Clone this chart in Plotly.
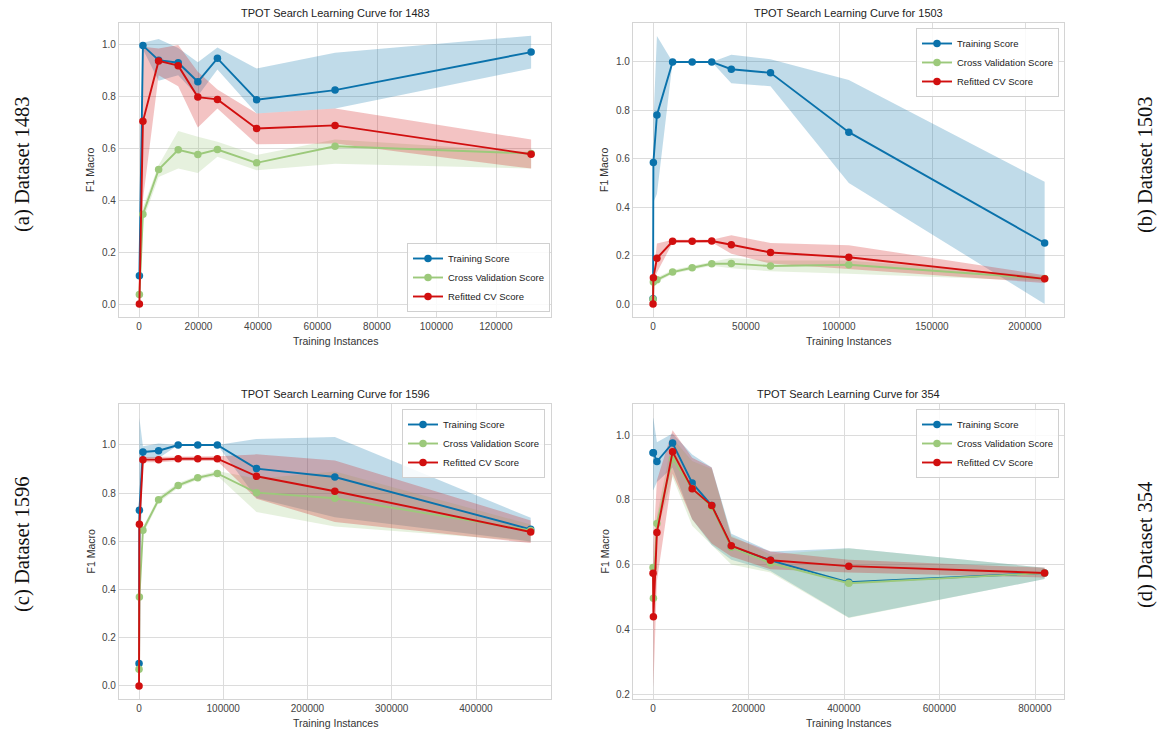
import plotly.graph_objects as go

# ---------------- DATA ----------------
# (a) Dataset 1483
a_x = [132, 1318, 6590, 13180, 19770, 26360, 39540, 65900, 131800]
a_train = [0.109, 0.994, 0.938, 0.928, 0.855, 0.945, 0.786, 0.823, 0.969]
a_train_hi = [0.115, 1.005, 1.019, 0.985, 0.930, 0.987, 0.906, 0.967, 1.032]
a_train_lo = [0.103, 0.980, 0.859, 0.880, 0.800, 0.902, 0.733, 0.752, 0.906]
a_cv = [0.037, 0.345, 0.517, 0.593, 0.575, 0.594, 0.543, 0.607, 0.579]
a_cv_hi = [0.040, 0.370, 0.534, 0.666, 0.643, 0.624, 0.573, 0.633, 0.585]
a_cv_lo = [0.034, 0.320, 0.489, 0.521, 0.504, 0.566, 0.515, 0.540, 0.521]
a_ref = [0.0, 0.703, 0.935, 0.917, 0.796, 0.787, 0.675, 0.687, 0.576]
a_ref_hi = [0.0, 0.990, 0.983, 0.996, 0.893, 0.825, 0.733, 0.752, 0.633]
a_ref_lo = [0.0, 0.400, 0.880, 0.838, 0.679, 0.752, 0.615, 0.617, 0.521]

# (b) Dataset 1503
b_x = [21, 211, 2106, 10530, 21060, 31580, 42110, 63170, 105280, 210560]
b_train = [0.022, 0.585, 0.781, 1.0, 1.0, 1.0, 0.970, 0.955, 0.710, 0.252]
b_train_hi = [0.030, 0.750, 1.107, 1.0, 1.0, 1.0, 1.030, 1.011, 0.926, 0.505]
b_train_lo = [0.015, 0.420, 0.455, 1.0, 1.0, 1.0, 0.912, 0.900, 0.500, 0.0]
b_cv = [0.020, 0.091, 0.100, 0.132, 0.150, 0.166, 0.167, 0.157, 0.162, 0.105]
b_cv_hi = [0.025, 0.100, 0.110, 0.140, 0.158, 0.175, 0.190, 0.180, 0.180, 0.115]
b_cv_lo = [0.015, 0.080, 0.090, 0.125, 0.142, 0.158, 0.148, 0.135, 0.125, 0.095]
b_ref = [0.0, 0.108, 0.189, 0.259, 0.259, 0.260, 0.245, 0.213, 0.193, 0.104]
b_ref_hi = [0.0, 0.120, 0.250, 0.265, 0.265, 0.265, 0.284, 0.252, 0.243, 0.119]
b_ref_lo = [0.0, 0.095, 0.130, 0.253, 0.253, 0.255, 0.208, 0.167, 0.142, 0.087]

# (c) Dataset 1596
c_x = [46, 465, 4649, 23245, 46490, 69735, 92980, 139470, 232450, 464900]
c_train = [0.093, 0.729, 0.971, 0.976, 1.0, 1.0, 1.0, 0.902, 0.867, 0.650]
c_train_hi = [0.100, 1.112, 0.995, 1.006, 1.0, 1.0, 1.0, 1.025, 1.033, 0.698]
c_train_lo = [0.086, 0.350, 0.945, 0.945, 1.0, 1.0, 1.0, 0.780, 0.700, 0.600]
c_cv = [0.069, 0.369, 0.646, 0.773, 0.832, 0.864, 0.882, 0.802, 0.779, 0.645]
c_cv_hi = [0.072, 0.380, 0.660, 0.785, 0.842, 0.872, 0.892, 0.860, 0.890, 0.670]
c_cv_lo = [0.066, 0.360, 0.630, 0.760, 0.822, 0.856, 0.872, 0.722, 0.662, 0.600]
c_ref = [0.0, 0.671, 0.939, 0.939, 0.943, 0.943, 0.943, 0.870, 0.808, 0.639]
c_ref_hi = [0.0, 0.750, 0.950, 0.950, 0.953, 0.953, 0.953, 0.961, 0.936, 0.687]
c_ref_lo = [0.0, 0.590, 0.928, 0.928, 0.933, 0.933, 0.933, 0.777, 0.680, 0.593]

# (d) Dataset 354
d_x = [82, 820, 8200, 41000, 82000, 123000, 164000, 246000, 410000, 820000]
d_train = [0.945, 0.945, 0.918, 0.975, 0.852, 0.782, 0.655, 0.613, 0.545, 0.574]
d_train_hi = [1.052, 1.052, 0.978, 1.005, 0.940, 0.900, 0.695, 0.640, 0.650, 0.590]
d_train_lo = [0.830, 0.830, 0.855, 0.900, 0.740, 0.660, 0.615, 0.580, 0.436, 0.555]
d_cv = [0.591, 0.496, 0.727, 0.927, 0.835, 0.778, 0.653, 0.604, 0.542, 0.574]
d_cv_hi = [0.610, 0.520, 0.750, 0.990, 0.920, 0.895, 0.690, 0.630, 0.650, 0.590]
d_cv_lo = [0.570, 0.470, 0.700, 0.870, 0.720, 0.660, 0.600, 0.575, 0.435, 0.555]
d_ref = [0.573, 0.439, 0.699, 0.948, 0.834, 0.782, 0.658, 0.613, 0.595, 0.574]
d_ref_hi = [0.600, 0.660, 0.860, 1.015, 0.930, 0.900, 0.685, 0.640, 0.615, 0.590]
d_ref_lo = [0.550, 0.220, 0.550, 0.880, 0.740, 0.665, 0.625, 0.585, 0.575, 0.560]

titles = ["TPOT Search Learning Curve for 1483", "TPOT Search Learning Curve for 1503",
          "TPOT Search Learning Curve for 1596", "TPOT Search Learning Curve for 354"]
side_labels = ["(a) Dataset 1483", "(b) Dataset 1503", "(c) Dataset 1596", "(d) Dataset 354"]
series_names = ["Training Score", "Cross Validation Score", "Refitted CV Score"]
x_tick_vals = [
    [0, 20000, 40000, 60000, 80000, 100000, 120000],
    [0, 50000, 100000, 150000, 200000],
    [0, 100000, 200000, 300000, 400000],
    [0, 200000, 400000, 600000, 800000],
]
y_tick_vals = [
    [0.0, 0.2, 0.4, 0.6, 0.8, 1.0],
    [0.0, 0.2, 0.4, 0.6, 0.8, 1.0],
    [0.0, 0.2, 0.4, 0.6, 0.8, 1.0],
    [0.2, 0.4, 0.6, 0.8, 1.0],
]

# ---------------- STYLE ----------------
W, H = 1166, 730
FONT = "Liberation Sans, Arial, sans-serif"
colors = ["#0a72ab", "#9cc97b", "#d10f0f"]
fills = ["rgba(10,114,171,0.26)", "rgba(156,201,123,0.25)", "rgba(209,15,15,0.25)"]

# plot areas in pixels: (left, right, top, bottom)
boxes = [(119, 551, 23, 317), (633, 1064, 23, 317), (119, 551, 404, 699), (633, 1064, 404, 699)]
x_ranges = [[-6723, 138487], [-10753, 220968], [-23739, 489021], [-41885, 860733]]
y_ranges = [[-0.05, 1.081], [-0.0537, 1.161], [-0.054, 1.170], [0.1846, 1.0958]]
legend_pos = [("bottom", 550, 312), ("top", 1059, 28), ("top", 545, 409), ("top", 1059, 409)]

panels = [
    (a_x, [(a_train, a_train_hi, a_train_lo), (a_cv, a_cv_hi, a_cv_lo), (a_ref, a_ref_hi, a_ref_lo)]),
    (b_x, [(b_train, b_train_hi, b_train_lo), (b_cv, b_cv_hi, b_cv_lo), (b_ref, b_ref_hi, b_ref_lo)]),
    (c_x, [(c_train, c_train_hi, c_train_lo), (c_cv, c_cv_hi, c_cv_lo), (c_ref, c_ref_hi, c_ref_lo)]),
    (d_x, [(d_train, d_train_hi, d_train_lo), (d_cv, d_cv_hi, d_cv_lo), (d_ref, d_ref_hi, d_ref_lo)]),
]

fig = go.Figure()
layout = dict(
    width=W, height=H,
    margin=dict(l=0, r=0, t=0, b=0),
    paper_bgcolor="white", plot_bgcolor="white",
    font=dict(family=FONT, size=10, color="#444"),
    showlegend=True,
)
annotations = []

for i, (xs, series) in enumerate(panels):
    k = "" if i == 0 else str(i + 1)
    xa, ya = "x" + k, "y" + k
    L, R, T, B = boxes[i]
    # bands
    for j, (m, hi, lo) in enumerate(series):
        fig.add_trace(go.Scatter(
            x=list(xs) + list(xs)[::-1], y=list(hi) + list(lo)[::-1],
            fill="toself", fillcolor=fills[j], line=dict(width=0),
            mode="lines", hoverinfo="skip", showlegend=False, xaxis=xa, yaxis=ya))
    # lines
    leg = "legend" + k
    for j, (m, hi, lo) in enumerate(series):
        fig.add_trace(go.Scatter(
            x=xs, y=m, mode="lines+markers", name=series_names[j],
            line=dict(color=colors[j], width=1.9),
            marker=dict(color=colors[j], size=7.5),
            xaxis=xa, yaxis=ya, legend=leg))
    axis_common = dict(showgrid=True, gridcolor="#dcdcdc", gridwidth=1.2,
                       zeroline=False, showline=True, linecolor="#d4d4d4", linewidth=1.3,
                       mirror=True, ticks="", automargin=False,
                       tickfont=dict(family=FONT, size=10, color="#444"))
    layout["xaxis" + k] = dict(domain=[L / W, R / W], range=x_ranges[i], anchor=ya,
                               tickvals=x_tick_vals[i], tickformat="d", **axis_common)
    layout["yaxis" + k] = dict(domain=[1 - B / H, 1 - T / H], range=y_ranges[i], anchor=xa,
                               tickvals=y_tick_vals[i], tickformat=".1f", **axis_common)
    # legend
    anchor, lx, ly = legend_pos[i]
    layout[leg] = dict(x=lx / W, y=1 - ly / H, xref="paper", yref="paper",
                       xanchor="right", yanchor=anchor,
                       bgcolor="rgba(255,255,255,0.85)", bordercolor="#d0d0d0", borderwidth=1,
                       font=dict(family=FONT, size=9.5, color="#222"),
                       tracegroupgap=0, itemwidth=30)
    cx = (L + R) / 2
    # title
    annotations.append(dict(text=titles[i], x=cx / W, y=1 - (T - 10) / H, xref="paper", yref="paper",
                            showarrow=False, xanchor="center", yanchor="middle",
                            font=dict(family=FONT, size=11, color="#222")))
    # axis titles
    annotations.append(dict(text="Training Instances", x=cx / W, y=1 - (B + 24) / H,
                            xref="paper", yref="paper", showarrow=False,
                            xanchor="center", yanchor="middle",
                            font=dict(family=FONT, size=10.5, color="#333")))
    annotations.append(dict(text="F1 Macro", x=(L - 29) / W, y=1 - ((T + B) / 2) / H,
                            xref="paper", yref="paper", showarrow=False, textangle=-90,
                            xanchor="center", yanchor="middle",
                            font=dict(family=FONT, size=10.5, color="#333")))
    # side labels
    sx = 22 if i in (0, 2) else 1145
    sy = 165 if i < 2 else 545
    annotations.append(dict(text=side_labels[i], x=sx / W, y=1 - sy / H,
                            xref="paper", yref="paper", showarrow=False, textangle=-90,
                            xanchor="center", yanchor="middle",
                            font=dict(family="Liberation Serif, DejaVu Serif, serif", size=20.5, color="#111")))

layout["annotations"] = annotations
fig.update_layout(**layout)
fig.write_html("out.html", config={"displayModeBar": False},
               post_script="document.body.style.margin='0px';document.body.style.overflow='hidden';")
